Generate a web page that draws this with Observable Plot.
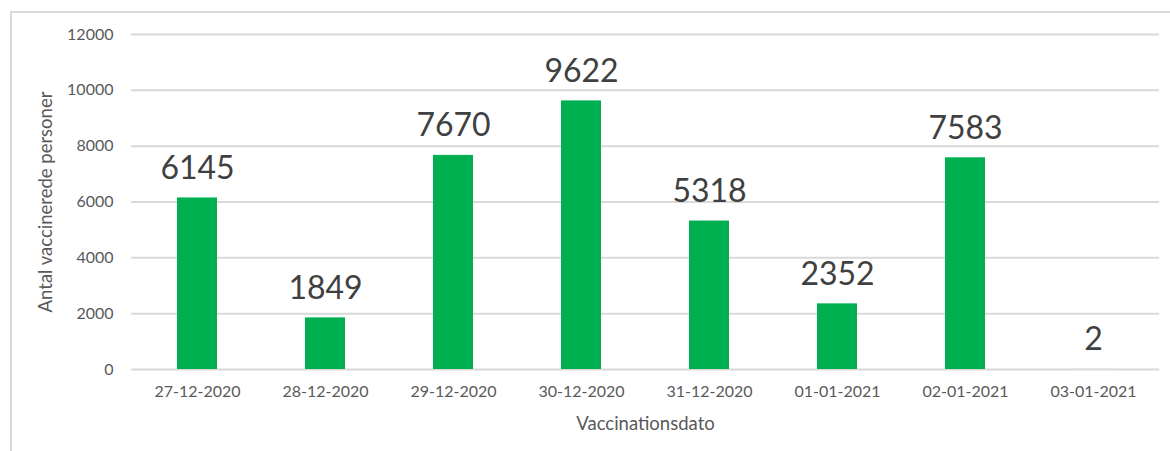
<!DOCTYPE html>
<html>
<head>
<meta charset="utf-8">
<script src="https://cdn.jsdelivr.net/npm/d3@7"></script>
<script src="https://cdn.jsdelivr.net/npm/@observablehq/plot@0.6"></script>
<style>
  html, body { margin: 0; padding: 0; background: #fff; overflow: hidden; }
  #wrap { position: relative; width: 1170px; height: 451px; }
  #frame { position: absolute; left: 10px; top: 11px; width: 2000px; height: 1000px;
           border: 2px solid #d9d9d9; box-sizing: border-box; pointer-events: none; }
  #chart { position: absolute; left: 0; top: 0; }
</style>
</head>
<body>
<div id="wrap"><div id="frame"></div><div id="chart"></div></div>
<script>
const dates = ["27-12-2020", "28-12-2020", "29-12-2020", "30-12-2020", "31-12-2020", "01-01-2021", "02-01-2021", "03-01-2021"];
const counts = [6145, 1849, 7670, 9622, 5318, 2352, 7583, 2];
const yTicks = [0, 2000, 4000, 6000, 8000, 10000, 12000];
const yTitle = "Antal vaccinerede personer";
const xTitle = "Vaccinationsdato";

const data = dates.map((d, i) => ({date: d, value: counts[i]}));

const chart = Plot.plot({
  width: 1170,
  height: 451,
  marginLeft: 131,
  marginRight: 11,
  marginTop: 34,
  marginBottom: 82,
  style: {fontFamily: "Lato, sans-serif", background: "transparent"},
  x: {domain: dates, paddingInner: 0.69, paddingOuter: 0.345},
  y: {domain: [0, 12000]},
  marks: [
    Plot.gridY(yTicks, {stroke: "#d9d9d9", strokeOpacity: 1, strokeWidth: 2}),
    Plot.axisY(yTicks, {
      tickSize: 0, tickPadding: 18, fontSize: 16, fill: "#595959",
      tickFormat: d => String(d),
      label: yTitle, labelAnchor: "center", labelArrow: "none", labelOffset: 93
    }),
    Plot.axisX({
      tickSize: 0, tickPadding: 16, fontSize: 16, fill: "#595959",
      label: xTitle, labelAnchor: "center", labelArrow: "none", labelOffset: 60
    }),
    Plot.barY(data, {x: "date", y: "value", fill: "#00b050"}),
    Plot.text(data, {x: "date", y: "value", text: d => String(d.value),
      lineAnchor: "bottom", dy: -19, fontSize: 32, fill: "#404040"})
  ]
});
chart.querySelectorAll("[aria-label='y-axis label'], [aria-label='x-axis label']").forEach(g => {
  g.setAttribute("font-size", "18.5");
  g.setAttribute("fill", "#595959");
});
document.getElementById("chart").appendChild(chart);
</script>
</body>
</html>
